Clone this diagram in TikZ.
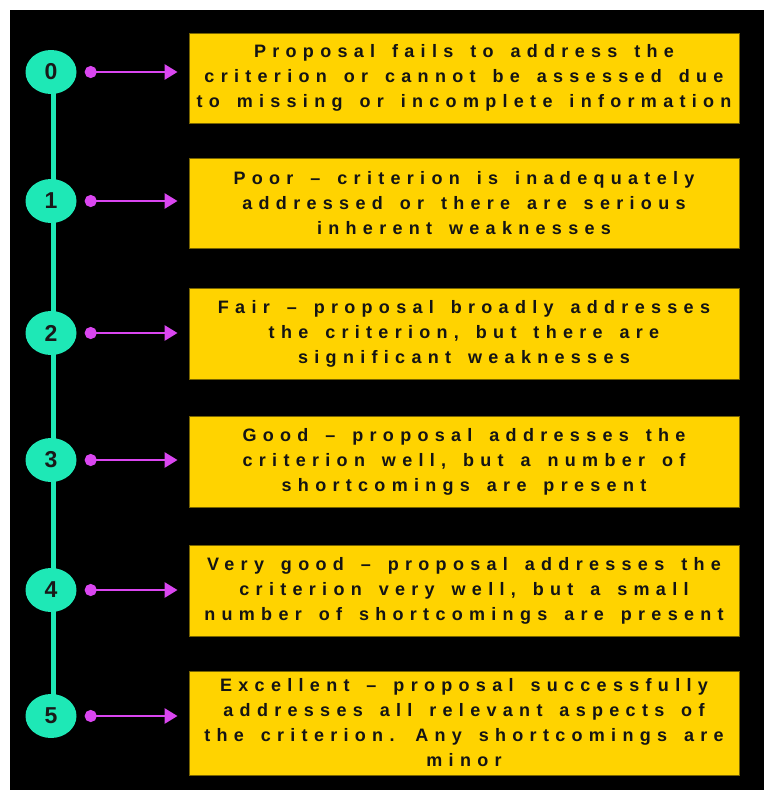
\documentclass[tikz,border=0pt]{standalone}
\usepackage{fontspec}
\setmainfont{Liberation Sans}
\newfontfamily\boxfont{Liberation Sans}[LetterSpace=35,WordSpace=1.5]
\usetikzlibrary{shapes.geometric,arrows.meta,backgrounds}
\definecolor{tealc}{RGB}{30,232,182}
\definecolor{magc}{RGB}{218,70,240}
\definecolor{yelc}{RGB}{255,211,0}
\definecolor{yedge}{RGB}{120,100,0}
\tikzset{
  numnode/.style={ellipse, fill=tealc, minimum width=51pt, minimum height=44pt, inner sep=0pt,
    font=\fontsize{23}{23}\selectfont\bfseries, text=black!90},
  boxnode/.style={rectangle, fill=yelc, draw=yedge, line width=0.9pt, minimum width=550pt,
    inner sep=0pt, align=center, text=black!92,
    font=\fontsize{18}{25}\boxfont\bfseries},
  arr/.style={magc, line width=2.8pt, {Circle[length=12pt,width=12pt]}-{Triangle[length=13pt,width=15pt]},
    shorten <=8pt, shorten >=11pt},
  spine/.style={tealc, line width=4.5pt}
}
\begin{document}
\begin{tikzpicture}[x=1pt,y=-1pt]
\useasboundingbox (0,0) rectangle (764,790);
\node[numnode] (c0) at (51,72) {0};
\node[numnode] (c1) at (51,201) {1};
\node[numnode] (c2) at (51,333) {2};
\node[numnode] (c3) at (51,460) {3};
\node[numnode] (c4) at (51,590) {4};
\node[numnode] (c5) at (51,716) {5};
\node[boxnode, minimum height=90pt] (b0) at (464,78) {Proposal fails to address the\\criterion or cannot be assessed due\\to missing or incomplete information};
\node[boxnode, minimum height=90pt] (b1) at (464,203) {Poor – criterion is inadequately\\addressed or there are serious\\inherent weaknesses};
\node[boxnode, minimum height=91pt] (b2) at (464,333.5) {Fair – proposal broadly addresses\\the criterion, but there are\\significant weaknesses};
\node[boxnode, minimum height=91pt] (b3) at (464,461.5) {Good – proposal addresses the\\criterion well, but a number of\\shortcomings are present};
\node[boxnode, minimum height=91pt] (b4) at (464,590.5) {Very good – proposal addresses the\\criterion very well, but a small\\number of shortcomings are present};
\node[boxnode, minimum height=104pt] (b5) at (464,723) {Excellent – proposal successfully\\addresses all relevant aspects of\\the criterion. Any shortcomings are\\minor};
\begin{scope}[on background layer]
  \fill[black] (10,10) rectangle (764,790);
  \draw[spine] ([xshift=2.5pt]c0.center) -- ([xshift=2.5pt]c5.center);
\end{scope}
\foreach \i in {0,...,5}{
  \draw[arr] (c\i.east) -- (c\i.east -| b\i.west);
}
\end{tikzpicture}
\end{document}
